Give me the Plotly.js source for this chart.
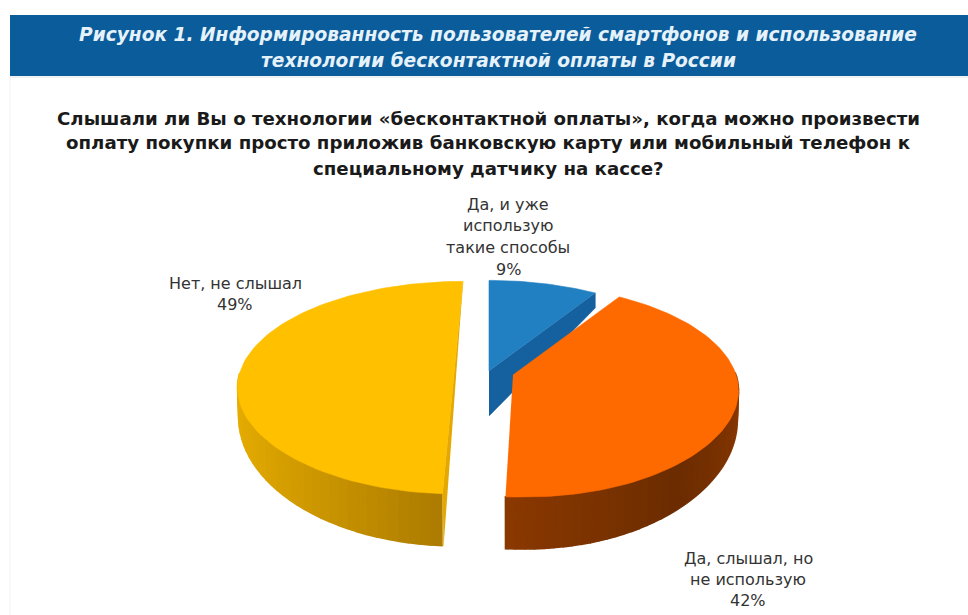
<!DOCTYPE html>
<html><head><meta charset="utf-8">
<script src="https://cdn.plot.ly/plotly-3.0.1.min.js"></script>
<style>html,body{margin:0;padding:0;background:#fff}#c{width:968px;height:615px}</style>
</head><body><div id="c"></div>
<script>
const categories = ["Да, и уже использую такие способы", "Да, слышал, но не использую", "Нет, не слышал"];
const shares = [9, 42, 49];
const topColors = ["#2080C2", "#FF6A00", "#FFC000"];
const headerLines = ["Рисунок 1. Информированность пользователей смартфонов и использование", "технологии бесконтактной оплаты в России"];
const questionLines = ["Слышали ли Вы о технологии «бесконтактной оплаты», когда можно произвести", "оплату покупки просто приложив банковскую карту или мобильный телефон к", "специальному датчику на кассе?"];
const labelLines = [["Да, и уже", "использую", "такие способы", "9%"], ["Да, слышал, но", "не использую", "42%"], ["Нет, не слышал", "49%"]];

// page-layout parameters of the exploded perspective pie (pixel-scaled axes)
const centres = [[489, 371], [513, 375], [463, 372]];
const frontSkew = [0, 9, -4];
const R = 223, Ry = 104, K = 0.148;
const labelPos = [[508, [204, 225, 247, 269]], [748, [558, 579, 600]], [235, [283, 304]]];
const wallStops = [
  [[0, "#15609E"], [1, "#15609E"]],
  [[0, "#8A3800"], [0.35, "#6B2C00"], [1, "#A84200"]],
  [[0, "#A87800"], [1, "#E6AD00"]]
];

function hex(c) { return [1, 3, 5].map(i => parseInt(c.substr(i, 2), 16)); }
function mix(stops, t) {
  for (let i = 1; i < stops.length; i++) {
    if (t <= stops[i][0]) {
      const u = (t - stops[i - 1][0]) / (stops[i][0] - stops[i - 1][0]);
      const a = hex(stops[i - 1][1]), b = hex(stops[i][1]);
      return "rgb(" + a.map((v, j) => Math.round(v + (b[j] - v) * u)).join(",") + ")";
    }
  }
  return stops[stops.length - 1][1];
}
function rim(i, th) {
  const c = centres[i], d = 1 + K * Math.cos(th), co = Math.cos(th);
  const sk = co < 0 ? frontSkew[i] * Math.pow(-co, 6) : 0;
  return [c[0] + R * Math.sin(th) / d + sk, c[1] - Ry * co / d];
}
function wallH(th) {
  const co = Math.cos(th);
  return co < 0 ? 25 - 27 * co : 25 - 10 * co;
}
function poly(pts, color, w) {
  return { type: "scatter", mode: "lines", x: pts.map(p => p[0]), y: pts.map(p => p[1]),
    fill: "toself", fillcolor: color, line: { color: color, width: w === undefined ? 0.6 : w },
    hoverinfo: "skip", showlegend: false };
}

const total = shares.reduce((a, b) => a + b, 0);
let cum = 0;
const spans = shares.map(s => { const a = cum / total * 2 * Math.PI; cum += s; return [a, cum / total * 2 * Math.PI]; });

const traces = [];
function arc(i, a, b, n) {
  const pts = [];
  for (let j = 0; j <= n; j++) pts.push(rim(i, a + (b - a) * j / n));
  return pts;
}
function sideWall(i) {
  const c = centres[i], a = spans[i][0], b = spans[i][1];
  const n = 70;
  for (let j = 0; j < n; j++) {
    const t0 = a + (b - a) * j / n, t1 = a + (b - a) * (j + 1) / n;
    if (Math.cos(t0) > 0.03 || Math.cos(t1) > 0.03) continue;
    const p0 = rim(i, t0), p1 = rim(i, t1);
    const tm = (t0 + t1) / 2;
    const u = i === 1 ? 1 - (tm - Math.PI / 3) / (b - Math.PI / 3) : -Math.sin(tm);
    const col = mix(wallStops[i], Math.max(0, Math.min(1, u)));
    traces.push(poly([p0, p1, [p1[0] * 0.995 + c[0] * 0.005, p1[1] + wallH(t1)], [p0[0] * 0.995 + c[0] * 0.005, p0[1] + wallH(t0)]], col, 1.6));
  }
}

// blue slice: radial wall, then top
{
  const c = centres[0], e = rim(0, spans[0][1]);
  traces.push(poly([c, e, [e[0], e[1] + 15], [c[0], c[1] + 45]], wallStops[0][0][1]));
  traces.push(poly([c].concat(arc(0, spans[0][0], spans[0][1], 30)), topColors[0]));
}
// yellow slice: wall, cut face, top (cut edge runs straight through the centre)
{
  const s = rim(2, spans[2][0]), e = rim(2, spans[2][1]);
  sideWall(2);
  traces.push(poly([e, s, [s[0] + 1, s[1] + wallH(spans[2][0])]], "#E5A800"));
  traces.push(poly(arc(2, spans[2][0], spans[2][1], 90), topColors[2]));
}
// orange slice: wall, top
{
  const c = centres[1];
  sideWall(1);
  traces.push(poly([c].concat(arc(1, spans[1][0], spans[1][1], 90)), topColors[1]));
}

const annotations = [];
function addLine(t, x, y, size, color, fam) {
  annotations.push({ text: t, x: x, y: y, xref: "x", yref: "y", showarrow: false, xanchor: "center", yanchor: "middle",
    font: { size: size, color: color, family: fam } });
}
const H = "'DejaVu Sans', sans-serif";
headerLines.forEach((t, i) => addLine("<b><i>" + t + "</i></b>", 498, [34, 60][i], 18.6, "#E6F2FA", H));
questionLines.forEach((t, i) => addLine("<b>" + t + "</b>", 488, [118, 142, 168][i], 18.2, "#1A1A1A", H));
labelLines.forEach((ls, i) => ls.forEach((t, j) => addLine(t, labelPos[i][0], labelPos[i][1][j], 16, "#333333", H)));

const layout = {
  width: 968, height: 615, margin: { l: 0, r: 0, t: 0, b: 0 },
  paper_bgcolor: "#FFFFFF", plot_bgcolor: "#FFFFFF", showlegend: false,
  xaxis: { range: [0, 968], visible: false, fixedrange: true },
  yaxis: { range: [615, 0], visible: false, fixedrange: true },
  shapes: [
    { type: "rect", xref: "x", yref: "y", x0: 10, x1: 968, y0: 15, y1: 76, fillcolor: "#0A5C9A", line: { width: 0 }, layer: "below" },
    { type: "line", xref: "x", yref: "y", x0: 10, x1: 10, y0: 76, y1: 615, line: { color: "#F3F3F3", width: 1 }, layer: "below" },
    { type: "line", xref: "x", yref: "y", x0: 10, x1: 968, y0: 77, y1: 77, line: { color: "#E4E4E4", width: 1 }, layer: "below" }
  ],
  annotations: annotations
};
Plotly.newPlot("c", traces, layout, { displayModeBar: false, staticPlot: true });
</script></body></html>
